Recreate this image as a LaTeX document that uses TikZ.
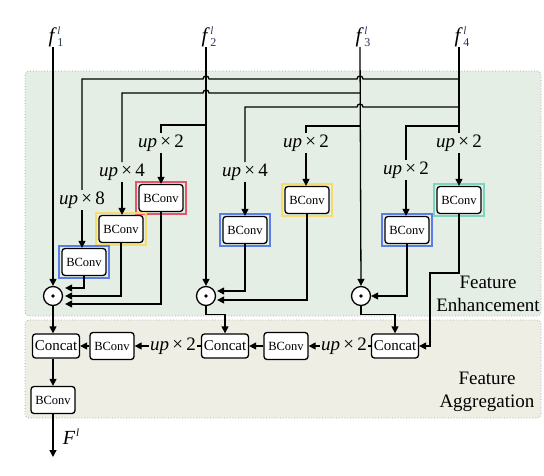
\documentclass[tikz,border=0pt]{standalone}
\usepackage{fontspec}
\setmainfont{Liberation Serif}
\usetikzlibrary{arrows.meta,calc}
\definecolor{enhfill}{RGB}{228,238,228}
\definecolor{aggfill}{RGB}{238,238,229}
\definecolor{boxborder}{RGB}{165,165,165}
\definecolor{fred}{RGB}{232,84,106}
\definecolor{fyellow}{RGB}{246,220,110}
\definecolor{fblue}{RGB}{90,125,232}
\definecolor{fteal}{RGB}{122,214,194}
\definecolor{idx}{RGB}{40,50,90}
\tikzset{
  wire/.style={line width=1.3pt, black},
  arr/.style={wire, -{Triangle[length=7pt,width=7pt]}},
  bconv/.style={draw, line width=1.3pt, fill=white, rounded corners=3pt,
    minimum width=44pt, minimum height=27pt, inner sep=1pt,
    font=\fontsize{12.5}{13}\selectfont},
  concat/.style={draw, line width=1.3pt, fill=white, rounded corners=3pt,
    minimum width=47pt, minimum height=24pt, inner sep=1pt,
    font=\fontsize{15}{16}\selectfont},
  uplab/.style={inner sep=1.5pt, font=\fontsize{19}{19}\selectfont},
  flab/.style={inner sep=0pt, anchor=south, font=\fontsize{21}{21}\selectfont},
  odot/.style={draw, circle, line width=1.3pt, fill=white, minimum size=19pt, inner sep=0pt},
  area/.style={draw=boxborder, dotted, line width=0.8pt, rounded corners=4pt},
  sectlab/.style={align=center, font=\fontsize{19}{22.5}\selectfont},
  frm/.style={line width=1.8pt},
}
\newcommand{\upx}[1]{\textit{up}\,×\,#1}
\newcommand{\flabel}[1]{\textit{f}\kern0.5pt\rlap{\raisebox{8pt}{\fontsize{11}{11}\selectfont\textcolor{idx}{\textit{l}}}}\raisebox{-4pt}{\fontsize{12}{12}\selectfont\textcolor{idx}{#1}}}
\newcommand{\framebx}[2]{\draw[frm,#2] ([shift={(-2,-2)}]#1.north west) rectangle ([shift={(2,2)}]#1.south east);}
\begin{document}
\begin{tikzpicture}[x=1pt,y=-1pt]
\useasboundingbox (0,0) rectangle (544,475);
% background areas
\draw[area, fill=enhfill] (25,71) rectangle (541,316);
\draw[area, fill=aggfill] (25,320) rectangle (541,418);
\node[sectlab] (enh) at (488,294) {Feature\\Enhancement};
\node[sectlab] (agg) at (487,392) {Feature\\Aggregation};

% inputs
\node[flab] (f1) at (56,47) {\flabel{1}};
\node[flab] (f2) at (209,47) {\flabel{2}};
\node[flab] (f3) at (363,47) {\flabel{3}};
\node[flab] (f4) at (462,47) {\flabel{4}};
\coordinate (f1s) at (53,47);
\coordinate (f2s) at (206,47);
\coordinate (f3s) at (360,47);
\coordinate (f4s) at (459,47);

% up labels
\node[uplab] (u8) at (82,200) {\upx{8}};
\node[uplab] (u4a) at (122,172) {\upx{4}};
\node[uplab] (u2a) at (161,143) {\upx{2}};
\node[uplab] (u4b) at (245,172) {\upx{4}};
\node[uplab] (u2b) at (306,143) {\upx{2}};
\node[uplab] (u2c) at (406,170) {\upx{2}};
\node[uplab] (u2d) at (459,143) {\upx{2}};

% BConv boxes
\node[bconv] (red) at (161,198) {BConv};
\node[bconv] (ye1) at (121,229) {BConv};
\node[bconv] (bl1) at (84,262) {BConv};
\node[bconv] (bl2) at (245,230) {BConv};
\node[bconv] (ye2) at (307,200) {BConv};
\node[bconv] (bl3) at (407,230) {BConv};
\node[bconv] (te) at (459,200) {BConv};
\framebx{red}{fred}
\framebx{ye1}{fyellow}
\framebx{bl1}{fblue}
\framebx{bl2}{fblue}
\framebx{ye2}{fyellow}
\framebx{bl3}{fblue}
\framebx{te}{fteal}

% odot nodes
\node[odot] (c1) at (53,296) {};
\node[odot] (c2) at (206,296) {};
\node[odot] (c3) at (361,296) {};
\fill (c1) circle (1.8);
\fill (c2) circle (1.8);
\fill (c3) circle (1.8);

% aggregation row
\node[concat] (cc1) at (56,346) {Concat};
\node[concat] (cc2) at (225,346) {Concat};
\node[concat] (cc3) at (395,346) {Concat};
\node[bconv, minimum height=27pt] (ba1) at (112,346) {BConv};
\node[bconv, minimum height=27pt] (ba2) at (286,346) {BConv};
\node[uplab] (ua1) at (173,346) {\upx{2}};
\node[uplab] (ua2) at (344,346) {\upx{2}};
\node[bconv] (bf) at (53,400) {BConv};
\coordinate (out) at (53,457);
\node[font=\fontsize{20}{20}\selectfont, inner sep=0pt] (Fl) at (71,437) {\textit{F}\kern1pt\raisebox{8pt}{\fontsize{11}{11}\selectfont\textit{l}}};

% vertical input lines
\draw[arr] (f1s) -- (c1.north);
\draw[arr] (f2s) -- (c2.north);
\draw[arr] (f3s) -- (c3.north);
\draw[wire] (f4s) -- (u2d.north);

% branch coordinates
\coordinate (jA) at (459,79);
\coordinate (jB) at (360,93);
\coordinate (jC) at (459,107);
\coordinate (jD) at (206,125);
\coordinate (jE) at (360,126);
\coordinate (jF) at (459,126);

% horizontal branches with hops
\draw[wire] (jA) -- (363,79) arc[start angle=0,end angle=180,radius=3pt]
  -- (209,79) arc[start angle=0,end angle=180,radius=3pt] -- (82,79) -- (u8.north);
\draw[wire] (jB) -- (209,93) arc[start angle=0,end angle=180,radius=3pt] -- (122,93) -- (u4a.north);
\draw[wire] (jC) -- (363,107) arc[start angle=0,end angle=180,radius=3pt] -- (245,107) -- (u4b.north);
\draw[wire] (jD) -| (u2a.north);
\draw[wire] (jE) -| (u2b.north);
\draw[wire] (jF) -| (u2c.north);

% up labels to BConv
\draw[arr] (u8.south) -- (u8.south |- bl1.north);
\draw[arr] (u4a.south) -- (u4a.south |- ye1.north);
\draw[arr] (u2a.south) -- (red.north);
\draw[arr] (u4b.south) -- (bl2.north);
\draw[arr] (u2b.south) -- (u2b.south |- ye2.north);
\draw[arr] (u2c.south) -- (u2c.south |- bl3.north);
\draw[arr] (u2d.south) -- (te.north);

% BConv to odot
\draw[arr] (bl1.south) |- ($(c1.east)+(2,-8)$);
\draw[arr] (ye1.south) |- ($(c1.east)+(2,0)$);
\draw[arr] (red.south) |- ($(c1.east)+(2,8)$);
\draw[arr] (bl2.south) |- ($(c2.east)+(1,-5)$);
\draw[arr] (ye2.south) |- ($(c2.east)+(1,4)$);
\draw[arr] (bl3.south) |- (c3.east);

% odot to concat
\draw[arr] (c1.south) -- (c1.south |- cc1.north);
\draw[arr] (c2.south) -- ++(0,8) -| (cc2.north);
\draw[arr] (c3.south) -- ++(0,8) -| (cc3.north);
\draw[arr] (te.south) -- (459,273) -- (430,273) |- (cc3.east);

% aggregation flow
\draw[wire] (cc3.west) -- (ua2.east);
\draw[arr] (ua2.west) -- (ba2.east);
\draw[arr] (ba2.west) -- (cc2.east);
\draw[wire] (cc2.west) -- (ua1.east);
\draw[arr] (ua1.west) -- (ba1.east);
\draw[arr] (ba1.west) -- (cc1.east);
\draw[arr] (cc1.south -| bf.north) -- (bf.north);
\draw[arr] (bf.south) -- (out);
\end{tikzpicture}
\end{document}
